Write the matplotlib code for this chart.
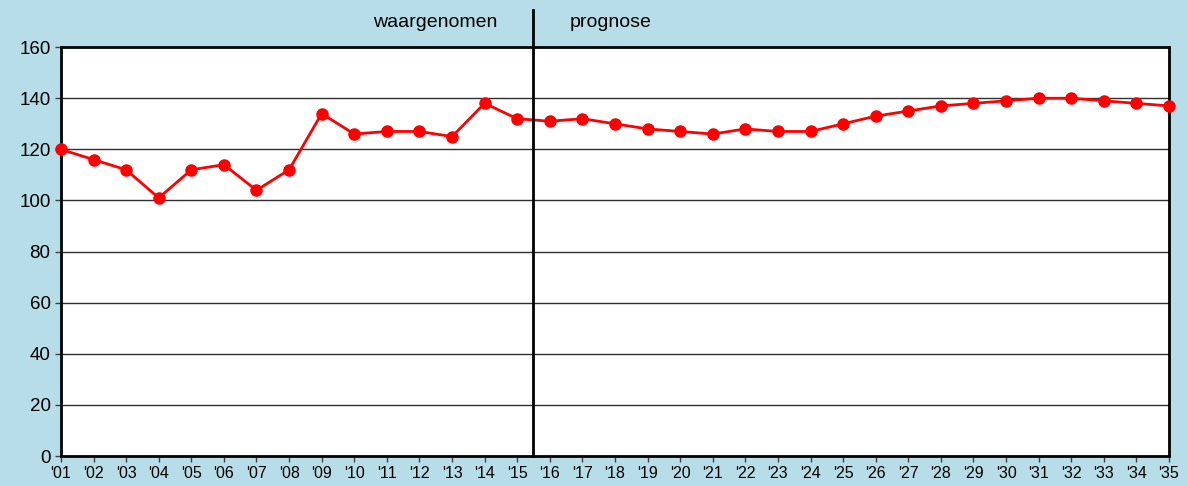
import matplotlib.pyplot as plt

plt.rcParams['font.family'] = ['Liberation Sans', 'DejaVu Sans']

# jaren en waarden
years = ["'01", "'02", "'03", "'04", "'05", "'06", "'07", "'08", "'09", "'10",
         "'11", "'12", "'13", "'14", "'15", "'16", "'17", "'18", "'19", "'20",
         "'21", "'22", "'23", "'24", "'25", "'26", "'27", "'28", "'29", "'30",
         "'31", "'32", "'33", "'34", "'35"]
values = [120, 116, 112, 101, 112, 114, 104, 112, 134, 126,
          127, 127, 125, 138, 132, 131, 132, 130, 128, 127,
          126, 128, 127, 127, 130, 133, 135, 137, 138, 139,
          140, 140, 139, 138, 137]
yticks = [0, 20, 40, 60, 80, 100, 120, 140, 160]
split = 14.5  # grens waargenomen / prognose, tussen '15 en '16

bg = '#b7dde8'
fig = plt.figure(figsize=(11.88, 4.86), dpi=100, facecolor=bg)
ax = fig.add_axes([0.0513, 0.0617, 0.9327, 0.8413])
ax.set_facecolor('white')

x = list(range(len(years)))
ax.set_xlim(0, len(years) - 1)
ax.set_ylim(0, 160)

for y in yticks[1:-1]:
    ax.axhline(y, color='#303030', lw=1.0, zorder=1)

ax.plot(x, values, color='#ff0000', lw=2, marker='o', markersize=8,
        zorder=3, clip_on=False)

# scheidingslijn, loopt door tot boven de grafiek
ax.plot([split, split], [0, 174.5], color='black', lw=2, clip_on=False, zorder=4)

ax.text(split - 1.1, 169.8, 'waargenomen', ha='right', va='center', fontsize=14)
ax.text(split + 1.1, 169.8, 'prognose', ha='left', va='center', fontsize=14)

ax.set_xticks(x)
ax.set_xticklabels(years, fontsize=11.5)
ax.set_yticks(yticks)
ax.set_yticklabels([str(v) for v in yticks], fontsize=13.5)
ax.tick_params(axis='both', direction='out', length=4, width=1, color='#404040')
ax.tick_params(axis='x', pad=3)

for s in ax.spines.values():
    s.set_color('black')
    s.set_linewidth(2)

fig.savefig('out.png', dpi=100, facecolor=bg)
